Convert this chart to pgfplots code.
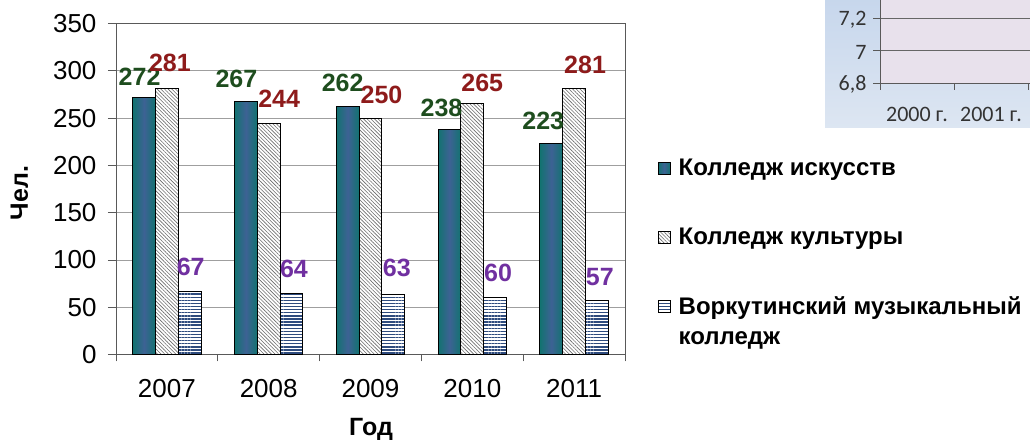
\documentclass[border=0pt]{standalone}
\usepackage{pgfplots}
\pgfplotsset{compat=1.18}
\usepackage{pgfplotstable}
\usepackage{fontspec}
\setmainfont{Liberation Sans}
\newfontfamily\carlito{Carlito}
\usetikzlibrary{patterns.meta}
\definecolor{tealA}{HTML}{127370}
\definecolor{tealB}{HTML}{3D6294}
\definecolor{labA}{HTML}{1E4D1E}
\definecolor{labB}{HTML}{8E1B1B}
\definecolor{labC}{HTML}{7030A0}
\definecolor{navy}{HTML}{2E4B7E}
\definecolor{panelT}{HTML}{C6D6EC}
\definecolor{panelB}{HTML}{DDE6F2}
\definecolor{plotbg}{HTML}{E8E1EC}

\pgfplotstableread{
x y dx dy
0 272 -4.5 12
1 267 -9.5 14
2 262 -5 15
3 238 -8 13
4 223 -8 14.5
}\tA
\pgfplotstableread{
x y dx dy
0 281 3 17
1 244 10.5 16
2 250 11 15
3 265 10 12
4 281 11 15
}\tB
\pgfplotstableread{
x y dx dy
0 67 1 16
1 64 2.5 16
2 63 3.5 18
3 60 3 16
4 57 3 15
}\tC

\begin{document}
\begin{tikzpicture}
\useasboundingbox (0,0) rectangle (1030pt,443pt);
\shade[top color=panelT, bottom color=panelB] (825pt,315pt) rectangle (1040pt,450pt);
\begin{axis}[
  at={(880pt,360pt)}, anchor=south west, scale only axis,
  width=222pt, height=97.5pt,
  xmin=-0.5, xmax=2.5, ymin=6.8, ymax=7.4,
  axis background/.style={fill=plotbg},
  axis x line=bottom, axis y line=left,
  every outer x axis line/.append style={-},
  every outer y axis line/.append style={-},
  axis line style={gray!70!black, line width=0.8pt},
  ytick={6.8,7,7.2}, yticklabels={{6,8},{7},{7,2}},
  xtick={0,1}, xticklabels={2000 г.,2001 г.},
  minor xtick={-0.5,0.5,1.5},
  major x tick style={draw=none},
  tick align=outside, major tick length=7pt, minor tick length=7pt,
  tick style={gray!70!black, line width=0.8pt},
  ymajorgrids, grid style={gray!80!black, line width=0.8pt},
  ticklabel style={font=\carlito\fontsize{22}{26}\selectfont, text=black!80},
  yticklabel style={xshift=-3pt, yshift=-1.5pt},
  xticklabel style={yshift=-14pt},
]
\end{axis}

\begin{axis}[
  at={(116pt,88.5pt)}, anchor=south west, scale only axis,
  width=509pt, height=331pt,
  xmin=-0.5, xmax=4.5, ymin=0, ymax=350,
  ybar=0pt, bar width=22.8pt,
  xtick={0,...,4}, xticklabels={2007,2008,2009,2010,2011},
  minor xtick={-0.5,0.5,...,4.5},
  ytick={0,50,...,350},
  tick pos=left,
  tick align=outside, major tick length=8pt, minor tick length=7pt,
  major x tick style={draw=none},
  tick style={gray!70!black, line width=0.8pt},
  axis line style={gray!70!black, line width=0.8pt},
  ymajorgrids, grid style={gray!75, line width=0.8pt},
  /pgf/number format/assume math mode=true,
  ticklabel style={font=\fontsize{26}{30}\selectfont},
  xticklabel style={yshift=-13pt},
  yticklabel style={xshift=-8pt},
  xlabel={Год}, ylabel={Чел.},
  label style={font=\bfseries\fontsize{25}{29}\selectfont},
  xlabel style={at={(axis description cs:0.501,-0.225)}, anchor=center},
  ylabel style={at={(axis description cs:-0.19,0.488)}, anchor=center, rotate=0},
  nodes near coords,
  every node near coord/.append style={font=\bfseries\fontsize{25}{29}\selectfont, anchor=base, inner sep=0pt, xshift=\dx pt, yshift=\dy pt},
  visualization depends on={\thisrow{dx} \as \dx},
  visualization depends on={\thisrow{dy} \as \dy},
  legend style={at={(axis description cs:1.0582,0.603)}, anchor=north west, draw=none, fill=none,
    font=\bfseries\fontsize{24}{28}\selectfont, row sep=47pt,
    cells={anchor=west}},
  legend image code/.code={\draw[#1, line width=0.8pt] (0pt,-6pt) rectangle (12pt,6pt); \path (18pt,0pt);},
  s1/.style={draw=black, line width=1pt, bar shift=-22.8pt, left color=tealA, right color=tealA, middle color=tealB,
    every node near coord/.append style={text=labA}},
]
\addplot[s1, restrict x to domain=0:0] table[x=x,y=y] {\tA};
\addlegendentry{Колледж искусств}
\addplot[s1, restrict x to domain=1:1, forget plot] table[x=x,y=y] {\tA};
\addplot[s1, restrict x to domain=2:2, forget plot] table[x=x,y=y] {\tA};
\addplot[s1, restrict x to domain=3:3, forget plot] table[x=x,y=y] {\tA};
\addplot[s1, restrict x to domain=4:4, forget plot] table[x=x,y=y] {\tA};
\addplot[draw=black, line width=1pt, bar shift=0pt, fill=white,
  postaction={pattern={Lines[angle=-45,distance=2.6pt,line width=0.6pt]}, pattern color=gray!85!black},
  every node near coord/.append style={text=labB}] table[x=x,y=y] {\tB};
\addlegendentry{Колледж культуры}
\addplot[draw=black, line width=1pt, bar shift=22.8pt, fill=white,
  postaction={pattern={Lines[angle=0,distance=3.1pt,line width=1.4pt]}, pattern color=navy},
  every node near coord/.append style={text=labC}] table[x=x,y=y] {\tC};
\addlegendentry{\makebox[0pt][l]{\raisebox{-30pt}[0pt][0pt]{колледж}}Воркутинский музыкальный}
\end{axis}
\end{tikzpicture}
\end{document}
